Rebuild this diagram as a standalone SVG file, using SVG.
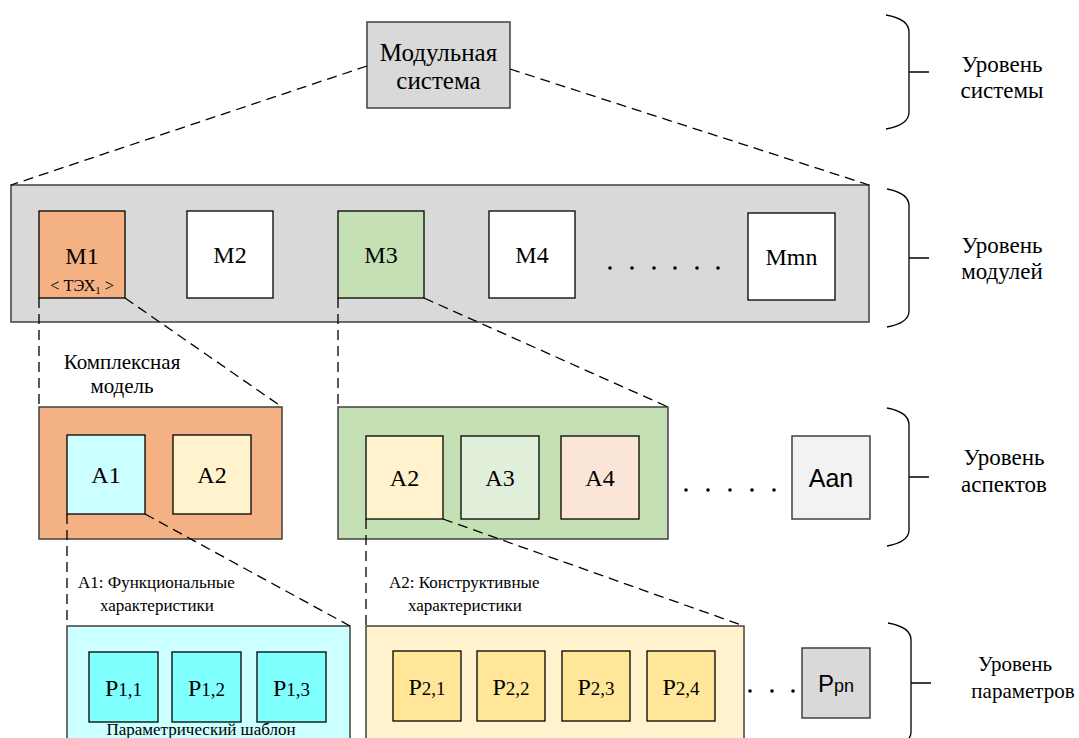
<svg xmlns="http://www.w3.org/2000/svg" width="1079" height="738" viewBox="0 0 1079 738">
  <style>
    .serif { font-family: "Liberation Serif", "Times New Roman", serif; fill: #000; }
    .sans { font-family: "Liberation Sans", Arial, sans-serif; fill: #000; }
    .c { text-anchor: middle; }
    .box { stroke: #000; stroke-width: 1.3; }
    .frame { stroke: #404040; stroke-width: 1.5; }
    .dash { fill: none; stroke: #000; stroke-width: 1.3; stroke-dasharray: 10 6; }
    .brace { fill: none; stroke: #000; stroke-width: 1.3; }
    .dot { fill: #000; }
    .big { font-size: 24px; }
    .lvl { font-size: 23px; }
    .note { font-size: 17px; }
  </style>
  <rect width="1079" height="738" fill="#fff"/>

  <!-- system level -->
  <g id="system">
    <rect class="frame" x="367" y="22" width="143" height="86" fill="#d9d9d9"/>
    <text class="serif c" x="438.5" y="61" font-size="25">Модульная</text>
    <text class="serif c" x="438.5" y="89" font-size="25">система</text>
  </g>

  <!-- module level -->
  <g id="modules">
    <rect class="frame" x="11" y="185" width="858" height="137" fill="#d9d9d9"/>
  </g>
  <g id="m1">
    <rect class="box" x="39" y="211" width="86" height="87" fill="#f4b183"/>
    <text class="serif c big" x="82" y="264">M1</text>
    <text class="serif c" x="82" y="291" font-size="16.5">&lt; ТЭХ<tspan font-size="10" dy="3">1</tspan><tspan dy="-3"> &gt;</tspan></text>
  </g>
  <g id="m2">
    <rect class="box" x="187" y="211" width="86" height="87" fill="#fff"/>
    <text class="serif c big" x="230" y="263">M2</text>
  </g>
  <g id="m3">
    <rect class="box" x="338" y="211" width="86" height="87" fill="#c5e0b4"/>
    <text class="serif c big" x="381" y="263">M3</text>
  </g>
  <g id="m4">
    <rect class="box" x="489" y="211" width="86" height="87" fill="#fff"/>
    <text class="serif c big" x="532" y="263">M4</text>
  </g>
  <g id="module-dots">
    <circle class="dot" cx="610" cy="268" r="1.8"/>
    <circle class="dot" cx="632" cy="268" r="1.8"/>
    <circle class="dot" cx="654" cy="268" r="1.8"/>
    <circle class="dot" cx="675" cy="268" r="1.8"/>
    <circle class="dot" cx="697" cy="268" r="1.8"/>
    <circle class="dot" cx="718" cy="268" r="1.8"/>
  </g>
  <g id="mmn">
    <rect class="box" x="748" y="213" width="87" height="87" fill="#fff"/>
    <text class="serif c big" x="791.5" y="265">Mmn</text>
  </g>

  <!-- aspect level: complex model of M1 -->
  <g id="complex-model">
    <text class="serif c" x="122" y="369" font-size="21">Комплексная</text>
    <text class="serif c" x="122" y="393" font-size="21">модель</text>
    <rect class="frame" x="39" y="407" width="243" height="132" fill="#f4b183"/>
  </g>
  <g id="a1">
    <rect class="box" x="67" y="435" width="78" height="79" fill="#ccffff"/>
    <text class="serif c big" x="106" y="483">A1</text>
  </g>
  <g id="a2-m1">
    <rect class="box" x="173" y="435" width="78" height="79" fill="#fff2cc"/>
    <text class="serif c big" x="212" y="483">A2</text>
  </g>

  <!-- aspect level: M3 -->
  <g id="m3-aspects">
    <rect class="frame" x="338" y="407" width="330" height="132" fill="#c5e0b4"/>
  </g>
  <g id="a2-m3">
    <rect class="box" x="366" y="436" width="77" height="83" fill="#fff2cc"/>
    <text class="serif c big" x="404.5" y="486">A2</text>
  </g>
  <g id="a3">
    <rect class="box" x="461" y="436" width="78" height="83" fill="#e2efda"/>
    <text class="serif c big" x="500" y="486">A3</text>
  </g>
  <g id="a4">
    <rect class="box" x="561" y="436" width="78" height="83" fill="#fbe5d6"/>
    <text class="serif c big" x="600" y="486">A4</text>
  </g>
  <g id="aspect-dots">
    <circle class="dot" cx="686" cy="490" r="1.8"/>
    <circle class="dot" cx="708" cy="490" r="1.8"/>
    <circle class="dot" cx="730" cy="490" r="1.8"/>
    <circle class="dot" cx="752" cy="490" r="1.8"/>
    <circle class="dot" cx="774" cy="490" r="1.8"/>
  </g>
  <g id="aan">
    <rect class="frame" x="792" y="436" width="78" height="83" fill="#f2f2f2"/>
    <text class="sans c" x="831" y="487" font-size="25">Aan</text>
  </g>

  <!-- parameter level: functional characteristics of A1 -->
  <g id="a1-template">
    <text class="serif note" x="78" y="588">A1: Функциональные</text>
    <text class="serif note" x="100" y="611">характеристики</text>
    <rect class="frame" x="67" y="626" width="283" height="130" fill="#ccffff"/>
    <text class="serif c note" x="201" y="735">Параметрический шаблон</text>
  </g>
  <g id="p11">
    <rect class="box" x="89" y="652" width="69" height="70" fill="#80ffff"/>
    <text class="serif c" x="123.5" y="696" font-size="24">P<tspan font-size="19">1,1</tspan></text>
  </g>
  <g id="p12">
    <rect class="box" x="172" y="652" width="69" height="70" fill="#80ffff"/>
    <text class="serif c" x="206.5" y="696" font-size="24">P<tspan font-size="19">1,2</tspan></text>
  </g>
  <g id="p13">
    <rect class="box" x="257" y="652" width="69" height="70" fill="#80ffff"/>
    <text class="serif c" x="291.5" y="696" font-size="24">P<tspan font-size="19">1,3</tspan></text>
  </g>

  <!-- parameter level: constructive characteristics of A2 -->
  <g id="a2-template">
    <text class="serif note" x="389" y="588">A2: Конструктивные</text>
    <text class="serif note" x="408" y="611">характеристики</text>
    <rect class="frame" x="366" y="626" width="378" height="130" fill="#fff2cc"/>
  </g>
  <g id="p21">
    <rect class="box" x="393" y="651" width="68" height="70" fill="#ffe699"/>
    <text class="serif c" x="427" y="695" font-size="24">P<tspan font-size="19">2,1</tspan></text>
  </g>
  <g id="p22">
    <rect class="box" x="477" y="651" width="68" height="70" fill="#ffe699"/>
    <text class="serif c" x="511" y="695" font-size="24">P<tspan font-size="19">2,2</tspan></text>
  </g>
  <g id="p23">
    <rect class="box" x="562" y="651" width="68" height="70" fill="#ffe699"/>
    <text class="serif c" x="596" y="695" font-size="24">P<tspan font-size="19">2,3</tspan></text>
  </g>
  <g id="p24">
    <rect class="box" x="647" y="651" width="68" height="70" fill="#ffe699"/>
    <text class="serif c" x="681" y="695" font-size="24">P<tspan font-size="19">2,4</tspan></text>
  </g>
  <g id="param-dots">
    <circle class="dot" cx="750" cy="691" r="1.8"/>
    <circle class="dot" cx="772" cy="691" r="1.8"/>
    <circle class="dot" cx="793" cy="691" r="1.8"/>
  </g>
  <g id="ppn">
    <rect class="frame" x="802" y="648" width="68" height="70" fill="#d9d9d9"/>
    <text class="sans c" x="836" y="692" font-size="24">P<tspan font-size="18">pn</tspan></text>
  </g>

  <!-- connectors: dashed zoom-in lines between levels, drawn over the frames -->
  <g id="connectors">
    <path class="dash" d="M367,66 L11,185"/>
    <path class="dash" d="M510,69 L869,185"/>
    <path class="dash" d="M39,298 L39,407"/>
    <path class="dash" d="M125,298 L282,407"/>
    <path class="dash" d="M338,298 L338,407"/>
    <path class="dash" d="M424,298 L668,407"/>
    <path class="dash" d="M67,514 L67,626"/>
    <path class="dash" d="M145,514 L350,626"/>
    <path class="dash" d="M366,519 L366,626"/>
    <path class="dash" d="M443,519 L744,626"/>
  </g>

  <!-- level braces and captions -->
  <g id="level-system">
    <path class="brace" d="M886,15 Q909,19 909,32 L909,112 Q909,125 886,129 M909,72 H929"/>
    <text class="serif c lvl" x="1002" y="72">Уровень</text>
    <text class="serif c lvl" x="1002" y="98">системы</text>
  </g>
  <g id="level-modules">
    <path class="brace" d="M887,189 Q909,193 909,206 L909,311 Q909,323 887,327 M909,258 H929"/>
    <text class="serif c lvl" x="1002" y="253">Уровень</text>
    <text class="serif c lvl" x="1002" y="279">модулей</text>
  </g>
  <g id="level-aspects">
    <path class="brace" d="M887,408 Q909,412 909,425 L909,530 Q909,542 887,546 M909,477 H929"/>
    <text class="serif c lvl" x="1004" y="465">Уровень</text>
    <text class="serif c lvl" x="1004" y="492">аспектов</text>
  </g>
  <g id="level-params">
    <path class="brace" d="M888,623 Q911,627 911,640 L911,732 Q911,744 888,748 M911,683 H931"/>
    <text class="serif c" x="1015" y="671" font-size="21">Уровень</text>
    <text class="serif c" x="1023" y="698" font-size="21">параметров</text>
  </g>
</svg>
